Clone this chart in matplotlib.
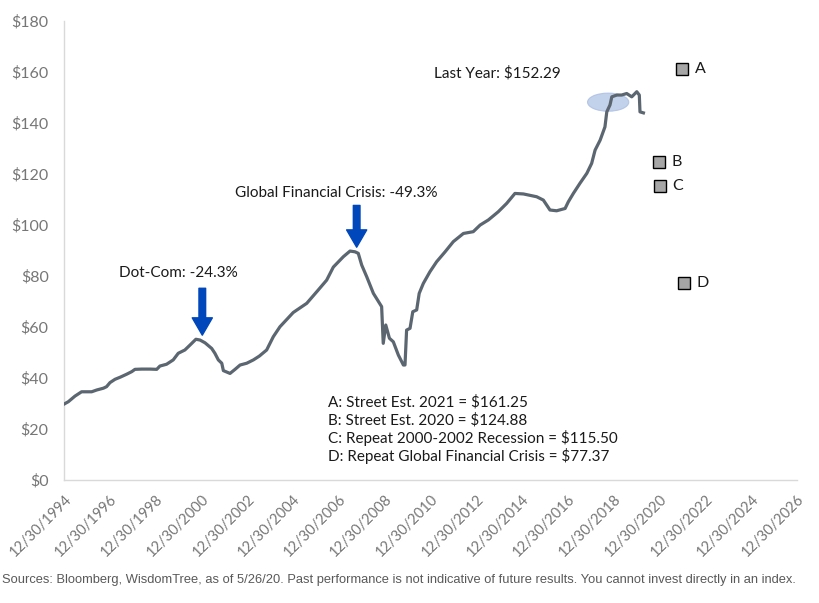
import numpy as np
import matplotlib
matplotlib.use("Agg")
import matplotlib.pyplot as plt
from matplotlib.patches import Ellipse

plt.rcParams['font.family'] = ['Lato', 'DejaVu Sans']

# S&P 500 trailing earnings (decimal years, $)
years = [1995.0, 1995.18, 1995.47, 1995.76, 1996.2, 1996.42, 1996.71, 1996.85, 1997.0, 1997.22,
         1997.44, 1997.73, 1997.95, 1998.09, 1998.38, 1998.75, 1999.04, 1999.18, 1999.47, 1999.76,
         1999.98, 2000.27, 2000.49, 2000.75, 2000.93, 2001.15, 2001.44, 2001.58, 2001.73, 2001.88,
         2001.95, 2002.24, 2002.46, 2002.68, 2002.97, 2003.26, 2003.52, 2003.84, 2004.13, 2004.42,
         2005.0, 2005.59, 2006.09, 2006.46, 2006.75, 2007.19, 2007.48, 2007.7, 2007.84, 2007.99,
         2008.21, 2008.5, 2008.86, 2008.93, 2009.04, 2009.2, 2009.37, 2009.59, 2009.81, 2009.88,
         2009.95, 2010.1, 2010.22, 2010.39, 2010.5, 2010.68, 2010.97, 2011.26, 2011.63, 2011.99,
         2012.43, 2012.86, 2013.16, 2013.52, 2013.95, 2014.32, 2014.68, 2015.05, 2015.63, 2015.92,
         2016.21, 2016.5, 2016.87, 2017.01, 2017.23, 2017.52, 2017.82, 2018.03, 2018.18, 2018.4,
         2018.61, 2018.69, 2018.83, 2018.91, 2019.13, 2019.34, 2019.56, 2019.78, 2020.0, 2020.11,
         2020.14, 2020.29]
eps = [29.8, 30.7, 32.9, 34.6, 34.6, 35.3, 36.0, 36.6, 38.2, 39.5,
       40.3, 41.5, 42.5, 43.4, 43.5, 43.5, 43.4, 44.7, 45.4, 47.1,
       49.7, 51.0, 52.9, 55.2, 54.9, 53.8, 51.6, 49.7, 47.1, 45.8,
       42.9, 41.8, 43.4, 45.1, 45.8, 47.1, 48.6, 51.0, 56.2, 60.1,
       65.7, 69.3, 74.5, 78.4, 83.5, 87.6, 89.8, 89.5, 88.9, 84.3,
       79.7, 73.2, 68.0, 53.6, 60.8, 55.6, 54.2, 49.0, 45.1, 45.1,
       58.8, 59.5, 66.0, 66.7, 73.2, 77.1, 81.7, 85.6, 89.5, 93.5,
       96.7, 97.4, 100.0, 102.0, 105.2, 108.5, 112.4, 112.2, 111.1, 109.8,
       105.9, 105.6, 106.5, 109.1, 112.4, 116.4, 120.3, 124.2, 129.4, 133.3,
       138.5, 144.4, 147.1, 150.3, 151.0, 151.0, 151.6, 150.3, 152.3, 151.0,
       144.4, 144.0]

# scenario markers
scen_labels = ['A', 'B', 'C', 'D']
scen_years = [2021.99, 2020.95, 2021.02, 2022.05]
scen_values = [161.25, 124.88, 115.50, 77.37]

legend_lines = ["A: Street Est. 2021 = $161.25",
                "B: Street Est. 2020 = $124.88",
                "C: Repeat 2000-2002 Recession = $115.50",
                "D: Repeat Global Financial Crisis = $77.37"]

tick_years = list(range(1994, 2027, 2))
tick_labels = ["12/30/%d" % y for y in tick_years]

footnote = ("Sources: Bloomberg, WisdomTree, as of 5/26/20. Past performance is not "
            "indicative of future results. You cannot invest directly in an index.")

line_col = '#5b6670'
blue = '#0047bb'
grey_txt = '#767676'

fig = plt.figure(figsize=(8.2, 6.03), dpi=100)
ax = fig.add_axes([0.078, 0.204, 0.894, 0.761])

ax.plot(years, eps, color=line_col, lw=2.3, solid_joinstyle='round', zorder=3)

# highlight of last year's peak
ax.add_patch(Ellipse((2018.75, 148.2), 1.8, 7.1, facecolor='#b4c7e7', edgecolor='#a9bde3',
                     alpha=0.8, lw=0.8, zorder=2))
ax.text(2011.15, 159.5, "Last Year: $152.29", fontsize=11, color='#1a1a1a', va='center')

# scenario squares
ax.plot(scen_years, scen_values, ls='none', marker='s', ms=8.6, mfc='#a6a6a6',
        mec='black', mew=1.0, zorder=4)
for lab, xx, yy in zip(scen_labels, scen_years, scen_values):
    ax.annotate(lab, (xx, yy), xytext=(9, 0), textcoords='offset points',
                fontsize=11.5, va='center', ha='left', color='#1a1a1a')

# crisis arrows
arrow_style = 'simple,head_length=1.25,head_width=1.45,tail_width=0.48'
ax.annotate('', xy=(2001.03, 56.8), xytext=(2001.03, 75.2),
            arrowprops=dict(arrowstyle=arrow_style, color=blue, mutation_scale=10,
                            shrinkA=0, shrinkB=0))
ax.text(2000.0, 81.0, "Dot-Com: -24.3%", fontsize=11, ha='center', va='center', color='#1a1a1a')

ax.annotate('', xy=(2007.77, 91.3), xytext=(2007.77, 107.7),
            arrowprops=dict(arrowstyle=arrow_style, color=blue, mutation_scale=10,
                            shrinkA=0, shrinkB=0))
ax.text(2006.9, 112.7, "Global Financial Crisis: -49.3%", fontsize=11, ha='center',
        va='center', color='#1a1a1a')

# scenario key
for i, s in enumerate(legend_lines):
    ax.text(2006.53, 30.6 - i * 7.06, s, fontsize=11, ha='left', va='center', color='#1a1a1a')

ax.set_xlim(1994.99, 2026.99)
ax.set_ylim(0, 180)
ax.set_yticks(np.arange(0, 181, 20))
ax.set_yticklabels(["$%d" % v for v in range(0, 181, 20)])
ax.set_xticks([y + 0.997 for y in tick_years])
ax.set_xticklabels(tick_labels, rotation=45, ha='right', va='top', rotation_mode='anchor')
ax.tick_params(axis='both', length=0, colors=grey_txt, labelsize=11.5)
ax.tick_params(axis='x', pad=9, labelsize=10.5)
ax.tick_params(axis='y', pad=11)

for side in ['top', 'right']:
    ax.spines[side].set_visible(False)
for side in ['left', 'bottom']:
    ax.spines[side].set_color('#d9d9d9')
    ax.spines[side].set_linewidth(1.0)

note = fig.text(0.003, 0.038, footnote, fontsize=10, color='#595959', ha='left', va='center',
                family=['Liberation Sans', 'DejaVu Sans'])
# shrink the source line so it fits the width like the original
fig.canvas.draw()
w = note.get_window_extent().width
note.set_fontsize(10 * 796.0 / w)

fig.savefig("out.png", dpi=100)
